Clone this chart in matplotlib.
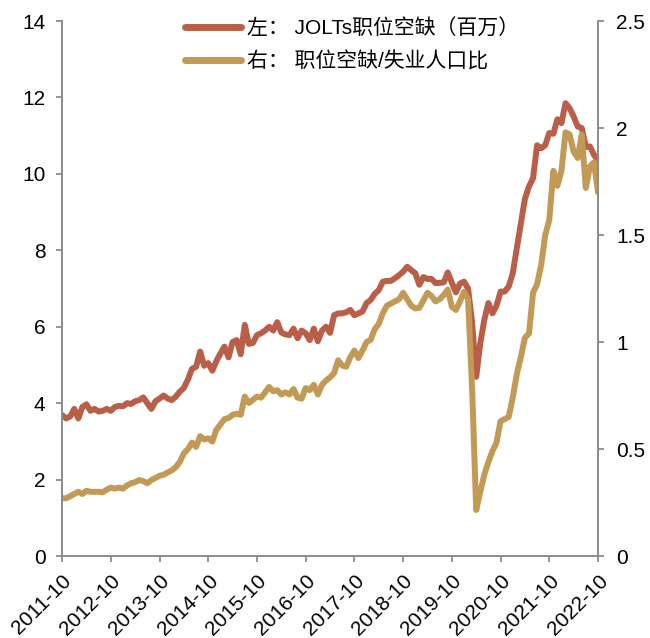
import matplotlib
matplotlib.use("Agg")
import matplotlib.pyplot as plt
from matplotlib.ticker import FuncFormatter

# JOLTs job openings, millions, monthly from 2011-10 to 2022-10
openings = [
    3.69, 3.60, 3.65, 3.85, 3.60, 3.90, 3.97, 3.80, 3.85, 3.78, 3.80, 3.85,
    3.80, 3.90, 3.93, 3.92, 4.00, 3.98, 4.05, 4.08, 4.15, 4.00, 3.85, 4.05,
    4.12, 4.20, 4.12, 4.08, 4.17, 4.30, 4.40, 4.62, 4.90, 4.95, 5.35, 4.98,
    5.05, 4.85, 5.10, 5.30, 5.48, 5.20, 5.60, 5.65, 5.28, 6.05, 5.55, 5.58,
    5.78, 5.83, 5.90, 6.00, 5.90, 6.12, 5.85, 5.80, 5.78, 5.95, 5.70, 5.90,
    5.83, 5.65, 5.95, 5.62, 5.90, 6.00, 5.84, 6.30, 6.35, 6.35, 6.38, 6.44,
    6.30, 6.35, 6.40, 6.62, 6.70, 6.86, 6.96, 7.18, 7.20, 7.20, 7.27, 7.35,
    7.44, 7.57, 7.48, 7.40, 7.10, 7.30, 7.25, 7.25, 7.14, 7.15, 7.16, 7.42,
    7.15, 6.90, 7.13, 7.18, 7.00, 6.10, 4.69, 5.57, 6.18, 6.62, 6.35, 6.55,
    6.92, 6.92, 7.05, 7.40, 8.05, 8.70, 9.35, 9.67, 9.89, 10.75, 10.67, 10.75,
    11.07, 11.05, 11.43, 11.33, 11.85, 11.72, 11.50, 11.24, 11.20, 10.70, 10.72, 10.50,
    10.35,
]

# job openings per unemployed person, same months
ratio = [
    0.27, 0.27, 0.28, 0.29, 0.30, 0.29, 0.305, 0.30, 0.30, 0.30, 0.298, 0.31,
    0.32, 0.315, 0.32, 0.315, 0.33, 0.34, 0.345, 0.355, 0.35, 0.34, 0.355, 0.365,
    0.375, 0.38, 0.39, 0.40, 0.415, 0.44, 0.48, 0.50, 0.53, 0.51, 0.56, 0.545,
    0.55, 0.535, 0.59, 0.615, 0.64, 0.645, 0.66, 0.665, 0.66, 0.745, 0.715, 0.73,
    0.745, 0.74, 0.765, 0.79, 0.77, 0.775, 0.755, 0.765, 0.755, 0.78, 0.74, 0.735,
    0.785, 0.775, 0.80, 0.755, 0.80, 0.82, 0.835, 0.855, 0.915, 0.89, 0.885, 0.93,
    0.96, 0.925, 0.96, 1.00, 1.01, 1.06, 1.085, 1.135, 1.17, 1.18, 1.19, 1.20,
    1.23, 1.20, 1.17, 1.157, 1.16, 1.195, 1.23, 1.215, 1.19, 1.20, 1.22, 1.245,
    1.165, 1.15, 1.19, 1.235, 1.20, 0.78, 0.215, 0.30, 0.38, 0.44, 0.49, 0.53,
    0.63, 0.64, 0.65, 0.74, 0.85, 0.93, 1.02, 1.04, 1.23, 1.27, 1.36, 1.50,
    1.57, 1.80, 1.73, 1.80, 1.98, 1.97, 1.89, 1.86, 1.97, 1.72, 1.82, 1.84,
    1.70,
]

tick_labels = ["2011-10", "2012-10", "2013-10", "2014-10", "2015-10", "2016-10",
               "2017-10", "2018-10", "2019-10", "2020-10", "2021-10", "2022-10"]

label_left = "左： JOLTs职位空缺（百万）"
label_right = "右： 职位空缺/失业人口比"

red = "#B95F49"
gold = "#C29A55"
grey = "#8C8C8C"

plt.rcParams["font.family"] = ["Liberation Sans", "Noto Sans CJK SC"]

months = list(range(len(openings)))

fig = plt.figure(figsize=(6.5, 6.38), dpi=100)
ax = fig.add_axes([0.0955, 0.1285, 0.8245, 0.8385])
ax2 = ax.twinx()

l1, = ax.plot(months, openings, color=red, lw=4.3, solid_capstyle="round",
              solid_joinstyle="round")
l2, = ax2.plot(months, ratio, color=gold, lw=4.3, solid_capstyle="round",
               solid_joinstyle="round")

ax.set_xlim(0, len(openings) - 1)
ax.set_ylim(0, 14)
ax2.set_ylim(0, 2.5)
ax.set_yticks(range(0, 15, 2))
ax2.set_yticks([0, 0.5, 1, 1.5, 2, 2.5])
ax2.yaxis.set_major_formatter(FuncFormatter(lambda v, p: f"{v:g}"))

ax.set_xticks(range(0, len(openings), 12))
ax.set_xticklabels(tick_labels, rotation=45, ha="right", va="top",
                   rotation_mode="anchor")

for a in (ax, ax2):
    a.spines["top"].set_visible(False)
    for side in ("left", "right", "bottom"):
        a.spines[side].set_color(grey)
        a.spines[side].set_linewidth(1.3)
    a.tick_params(colors=grey, labelcolor="black", labelsize=15,
                  length=4, width=1.3, direction="out")

ax.tick_params(axis="y", pad=8)
ax2.tick_params(axis="y", pad=9)
ax.tick_params(axis="x", pad=7)

leg = ax2.legend([l1, l2], [label_left, label_right], loc="upper left",
                 bbox_to_anchor=(0.285, 0.971), bbox_transform=fig.transFigure,
                 frameon=False, fontsize=15, handlelength=2.7, handletextpad=0.25,
                 labelspacing=0.63, borderpad=0, borderaxespad=0)
for line in leg.get_lines():
    line.set_linewidth(5)
    line.set_solid_capstyle("round")

fig.savefig("out.png", dpi=100)
